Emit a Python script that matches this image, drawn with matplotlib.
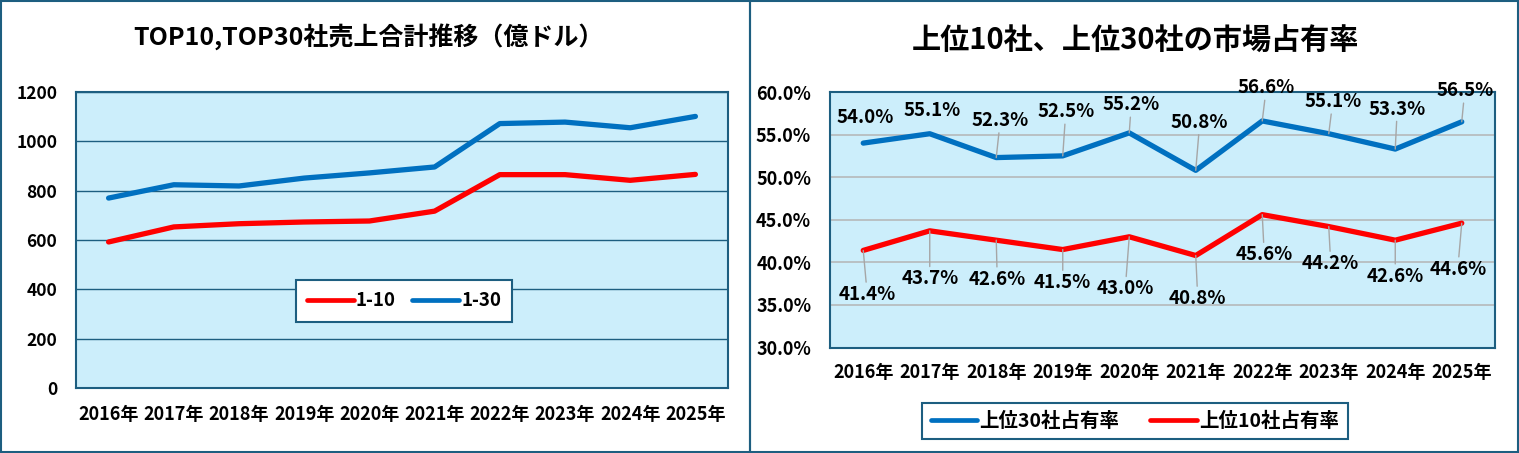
import matplotlib.pyplot as plt
from matplotlib.patches import Rectangle
from matplotlib.ticker import FuncFormatter

plt.rcParams['font.family'] = ['Noto Sans CJK JP', 'DejaVu Sans']
plt.rcParams['font.weight'] = 'bold'

years = ['2016年', '2017年', '2018年', '2019年', '2020年',
         '2021年', '2022年', '2023年', '2024年', '2025年']

# 売上合計（億ドル）-
sales_top10 = [592, 653, 666, 673, 677, 717, 865, 865, 842, 866]
sales_top30 = [770, 824, 819, 851, 872, 896, 1072, 1078, 1055, 1101]

# 市場占有率（%）
share_top30 = [54.0, 55.1, 52.3, 52.5, 55.2, 50.8, 56.6, 55.1, 53.3, 56.5]
share_top10 = [41.4, 43.7, 42.6, 41.5, 43.0, 40.8, 45.6, 44.2, 42.6, 44.6]

# label offsets in pixels (dx, dy up)
off_top30 = [(2, 26), (2, 23), (4, 37), (3, 44), (2, 28),
             (4, 48), (4, 33), (4, 32), (2, 40), (3, 31)]
off_top10 = [(4, -44), (0, -48), (1, -39), (0, -33), (-4, -52),
             (2, -43), (2, -40), (2, -37), (0, -36), (-4, -46)]

W, H = 1519, 453
TEAL = '#1D5E80'
BG = '#CCEEFB'
BLUE = '#0070C0'
RED = '#FF0000'

fig = plt.figure(figsize=(W / 100, H / 100), dpi=100)


def px_axes(x0, y0, x1, y1):
    return fig.add_axes([x0 / W, 1 - y1 / H, (x1 - x0) / W, (y1 - y0) / H])


# panel frames
fig.add_artist(Rectangle((1 / W, 1 / H), 749 / W, 451 / H, transform=fig.transFigure,
                         fill=False, edgecolor=TEAL, linewidth=1.5))
fig.add_artist(Rectangle((750 / W, 1 / H), 768 / W, 451 / H, transform=fig.transFigure,
                         fill=False, edgecolor=TEAL, linewidth=1.5))

# ---------------- left chart ----------------
ax1 = px_axes(76, 92, 728, 388)
x = list(range(len(years)))
ax1.set_facecolor(BG)
ax1.plot(x, sales_top10, color=RED, lw=3.8, solid_capstyle='round', label='1-10', zorder=3)
ax1.plot(x, sales_top30, color=BLUE, lw=3.8, solid_capstyle='round', label='1-30', zorder=3)
ax1.set_xlim(-0.5, len(years) - 0.5)
ax1.set_ylim(0, 1200)
ax1.set_yticks(range(0, 1201, 200))
ax1.set_xticks(x)
ax1.set_xticklabels(years)
ax1.grid(axis='y', color=TEAL, lw=1.0)
ax1.set_axisbelow(True)
ax1.tick_params(length=0, labelsize=12.5)
ax1.tick_params(axis='x', pad=12, labelsize=13)
ax1.tick_params(axis='y', pad=13.5)
for s in ax1.spines.values():
    s.set_color(TEAL)
    s.set_linewidth(1.5)
leg1 = ax1.legend(loc='center', bbox_to_anchor=(0.503, 0.294), ncol=2, fancybox=False,
                  framealpha=1, edgecolor=TEAL, fontsize=13.5, handlelength=2.5,
                  handletextpad=0.1, columnspacing=0.9, borderpad=0.6)
leg1.get_frame().set_linewidth(1.5)
for ln in leg1.get_lines():
    ln.set_solid_capstyle('round')
    ln.set_linewidth(3.4)

fig.text(368 / W, 1 - 37 / H, 'TOP10,TOP30社売上合計推移（億ドル）',
         ha='center', va='center', fontsize=18, fontweight='bold')

# ---------------- right chart ----------------
ax2 = px_axes(830, 92, 1495, 347.5)
ax2.set_facecolor(BG)
l30, = ax2.plot(x, share_top30, color=BLUE, lw=3.8, solid_capstyle='round',
                label='上位30社占有率', zorder=3)
l10, = ax2.plot(x, share_top10, color=RED, lw=3.8, solid_capstyle='round',
                label='上位10社占有率', zorder=3)
ax2.set_xlim(-0.5, len(years) - 0.5)
ax2.set_ylim(30, 60)
ax2.set_yticks(range(30, 61, 5))
ax2.yaxis.set_major_formatter(FuncFormatter(lambda v, p: f'{v:.1f}%'))
ax2.set_xticks(x)
ax2.set_xticklabels(years)
ax2.grid(axis='y', color='#B4B4B4', lw=1.1)
ax2.set_axisbelow(True)
ax2.tick_params(length=0, labelsize=13)
ax2.tick_params(axis='x', pad=11)
ax2.tick_params(axis='y', pad=13.5)
for s in ax2.spines.values():
    s.set_color(TEAL)
    s.set_linewidth(1.5)


def add_labels(vals, offs):
    for i, (v, (dx, dy)) in enumerate(zip(vals, offs)):
        arrow = None
        if (dx * dx + dy * dy) ** 0.5 > 27:
            arrow = dict(arrowstyle='-', color='#A6A6A6', lw=1.0, shrinkA=0, shrinkB=0)
        ax2.annotate(f'{v:.1f}%', xy=(i, v), xytext=(dx, dy), textcoords='offset pixels',
                     ha='center', va='center', fontsize=13.5, fontweight='bold',
                     arrowprops=arrow, zorder=4, annotation_clip=False)


add_labels(share_top30, off_top30)
add_labels(share_top10, off_top10)

leg2 = fig.legend(handles=[l30, l10], loc='center', bbox_to_anchor=(1134.7 / W, 1 - 421 / H),
                  ncol=2, fancybox=False, framealpha=1, edgecolor=TEAL, fontsize=14,
                  handlelength=2.4, handletextpad=0.1, columnspacing=1.6, borderpad=0.45,
                  borderaxespad=0)
leg2.get_frame().set_linewidth(1.5)
for ln in leg2.get_lines():
    ln.set_solid_capstyle('round')
    ln.set_linewidth(3.4)

fig.text(1135 / W, 1 - 41 / H, '上位10社、上位30社の市場占有率',
         ha='center', va='center', fontsize=21, fontweight='bold')

fig.savefig('out.png', dpi=100)
